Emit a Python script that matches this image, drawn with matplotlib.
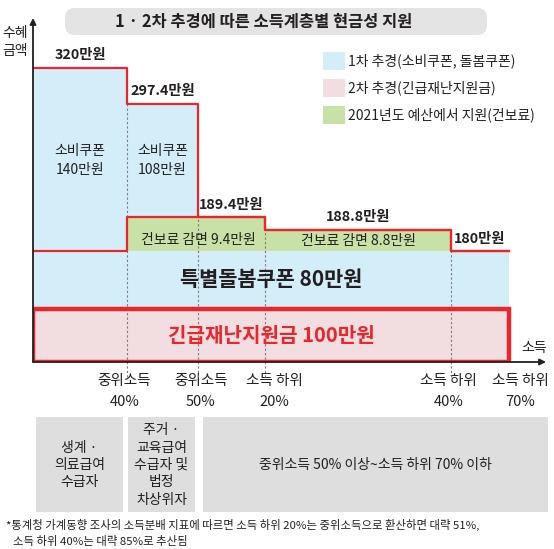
import matplotlib
matplotlib.use("Agg")
import matplotlib.pyplot as plt
from matplotlib.patches import Rectangle, FancyBboxPatch
from matplotlib.transforms import ScaledTranslation
import numpy as np

plt.rcParams['font.family'] = ['Noto Sans CJK KR', 'DejaVu Sans']

# ---- 데이터 (단위: 만원) ----
brackets = ["", "중위소득\n40%", "중위소득\n50%", "소득 하위\n20%", "소득 하위\n40%", "소득 하위\n70%"]
disaster = [100, 100, 100, 100, 100]      # 2차 추경 긴급재난지원금
care = [80, 80, 80, 80, 80]               # 1차 추경 특별돌봄쿠폰
health = [0, 9.4, 9.4, 8.8, 0]            # 2021년 예산 건보료 감면
consume = [140, 108, 0, 0, 0]             # 1차 추경 소비쿠폰

legend_labels = ["1차 추경(소비쿠폰, 돌봄쿠폰)", "2차 추경(긴급재난지원금)", "2021년도 예산에서 지원(건보료)"]
groups = ["생계 ·\n의료급여\n수급자", "주거 ·\n교육급여\n수급자 및\n법정\n차상위자",
          "중위소득 50% 이상~소득 하위 70% 이하"]

# ---- 스타일 ----
RED = '#e8262b'
BLUE = '#d3edf9'
PINK = '#f2dde0'
GREEN = '#c7e1a6'
GRAY = '#dedede'
INK = '#231f20'

# 인포그래픽이라 축이 비례하지 않음: 구간별 화면 위치(px)로 매핑
x_knots = [0, 1, 2, 3, 4, 5, 6]
x_px = [0, 94, 165, 232, 418, 476, 513]
y_knots = [-100, 0, 100, 180, 188.8, 189.4, 297.4, 320, 350]
y_px = [-53, 0, 53, 111, 132, 145, 258, 294, 344]
tick_shift = [-2, 2, 7, -2, 8]   # 눈금 글자 가로 보정(pt)


def x_fwd(v):
    return np.interp(v, x_knots, x_px)


def x_inv(p):
    return np.interp(p, x_px, x_knots)


def y_fwd(v):
    return np.interp(v, y_knots, y_px)


def y_inv(p):
    return np.interp(p, y_px, y_knots)


W, H = 554, 549
fig = plt.figure(figsize=(W / 100, H / 100), dpi=100)

# 장식용 축 (픽셀 좌표)
deco = fig.add_axes([0, 0, 1, 1])
deco.set_xlim(0, W)
deco.set_ylim(H, 0)
deco.axis('off')

# 차트 축
ax = fig.add_axes([33 / W, (H - 362) / H, 513 / W, 344 / H])
ax.set_xscale('function', functions=(x_fwd, x_inv))
ax.set_yscale('function', functions=(y_fwd, y_inv))
ax.set_xlim(0, 6)
ax.set_ylim(0, 350)
ax.patch.set_visible(False)
for s in ax.spines.values():
    s.set_visible(False)

disaster = np.array(disaster)
care = np.array(care)
health = np.array(health)
consume = np.array(consume)
x = np.arange(len(disaster)) + 0.5

b1 = disaster
b2 = b1 + care
b3 = b2 + health
totals = b3 + consume

ax.bar(x, disaster, width=1, color=PINK, zorder=1)
ax.bar(x, care, bottom=b1, width=1, color=BLUE, zorder=1)
ax.bar(x, health, bottom=b2, width=1, color=GREEN, zorder=1)
ax.bar(x, consume, bottom=b3, width=1, color=BLUE, zorder=1)

# 구간 경계 점선
for i in range(1, len(totals)):
    top = min(totals[i - 1], totals[i])
    ax.vlines(i, -28, top, colors='#7a7a7a', linestyles=(0, (2, 2)), lw=0.8,
              zorder=2, clip_on=False)

# 빨간 윤곽선
edges = np.arange(len(totals) + 1)
ax.step(edges, np.append(totals, totals[-1]), where='post', color=RED, lw=1.6, zorder=3)
ax.step(edges, np.append(b3, b3[-1]), where='post', color=RED, lw=1.6, zorder=3)
ax.add_patch(Rectangle((0, 0), len(disaster), disaster[0], fill=False,
                       edgecolor=RED, lw=3.2, zorder=3))

# 축 화살표
arrow = dict(arrowstyle='-|>', color=INK, lw=1.3, mutation_scale=9, shrinkA=0, shrinkB=0)
ax.annotate('', xy=(1, 0), xytext=(0, 0), xycoords='axes fraction', arrowprops=arrow, zorder=4)
ax.annotate('', xy=(0, 1), xytext=(0, 0), xycoords='axes fraction', arrowprops=arrow, zorder=4)

ax.set_yticks([])
ax.set_xticks(edges[1:])
ax.set_xticklabels(brackets[1:], fontsize=10.5, color=INK)
ax.tick_params(axis='x', length=0, pad=9)
for t, dx in zip(ax.get_xticklabels(), tick_shift):
    t.set_linespacing(1.55)
    t.set_transform(t.get_transform() + ScaledTranslation(dx / 72, 0, fig.dpi_scale_trans))

# 금액 라벨
for xi, t in zip(x, totals):
    ax.annotate(f"{t:g}만원", xy=(xi, t), xytext=(0, 9), textcoords='offset points',
                ha='center', va='center', fontsize=10.3, fontweight='bold', color=INK, zorder=5)

# 블록 내부 라벨
y_cons = b3[1] + consume[1] / 2
for i in (0, 1):
    ax.text(x[i], y_cons, f"소비쿠폰\n{consume[i]}만원", ha='center', va='center',
            fontsize=10, color=INK, linespacing=1.4, zorder=5)
ax.text(2, b2[1] + health[1] / 2, f"건보료 감면 {health[1]:g}만원", ha='center', va='center',
        fontsize=10, color=INK, zorder=5)
ax.text(x[3], b2[3] + health[3] / 2, f"건보료 감면 {health[3]:g}만원", ha='center', va='center',
        fontsize=10, color=INK, zorder=5)
xmid = float(x_inv(np.mean(x_fwd(np.array([0, len(disaster)])))))
ax.text(xmid, b1[0] + care[0] / 2, f"특별돌봄쿠폰 {care[0]}만원", ha='center', va='center',
        fontsize=15, fontweight='bold', color=INK, zorder=5)
ax.text(xmid, disaster[0] / 2, f"긴급재난지원금 {disaster[0]}만원", ha='center', va='center',
        fontsize=14.5, fontweight='bold', color=RED, zorder=5)

# 축 이름
deco.text(15, 42, "수혜\n금액", ha='center', va='center', fontsize=10, color=INK, linespacing=1.3)
deco.text(534, 348, "소득", ha='center', va='center', fontsize=10, color=INK)

# 제목
deco.add_patch(FancyBboxPatch((65, 8), 422, 27, boxstyle="round,pad=0,rounding_size=10",
                              facecolor='#e4e4e4', edgecolor='none'))
deco.text(264, 21.5, "1 · 2차 추경에 따른 소득계층별 현금성 지원", ha='center', va='center',
          fontsize=11.8, fontweight='bold', color=INK)

# 범례
for k, (lab, col) in enumerate(zip(legend_labels, [BLUE, PINK, GREEN])):
    yc = 61 + k * 27
    deco.add_patch(Rectangle((323, yc - 9), 22, 18, facecolor=col, edgecolor='none'))
    deco.text(348, yc, lab, ha='left', va='center', fontsize=10, color=INK)

# 하단 구분 표
boxes = [(36, 123), (128, 195), (203, 548)]
for (x0, x1), g in zip(boxes, groups):
    deco.add_patch(Rectangle((x0, 417), x1 - x0, 95, facecolor=GRAY, edgecolor='none'))
    deco.text((x0 + x1) / 2, 465, g, ha='center', va='center', fontsize=10,
              color=INK, linespacing=1.3)

# 각주
deco.text(6, 525, "*통계청 가계동향 조사의 소득분배 지표에 따르면 소득 하위 20%는 중위소득으로 환산하면 대략 51%,",
          ha='left', va='center', fontsize=8.2, color=INK)
deco.text(13, 542, "소득 하위 40%는 대략 85%로 추산됨", ha='left', va='center', fontsize=8.2, color=INK)

fig.savefig('out.png', dpi=100)
